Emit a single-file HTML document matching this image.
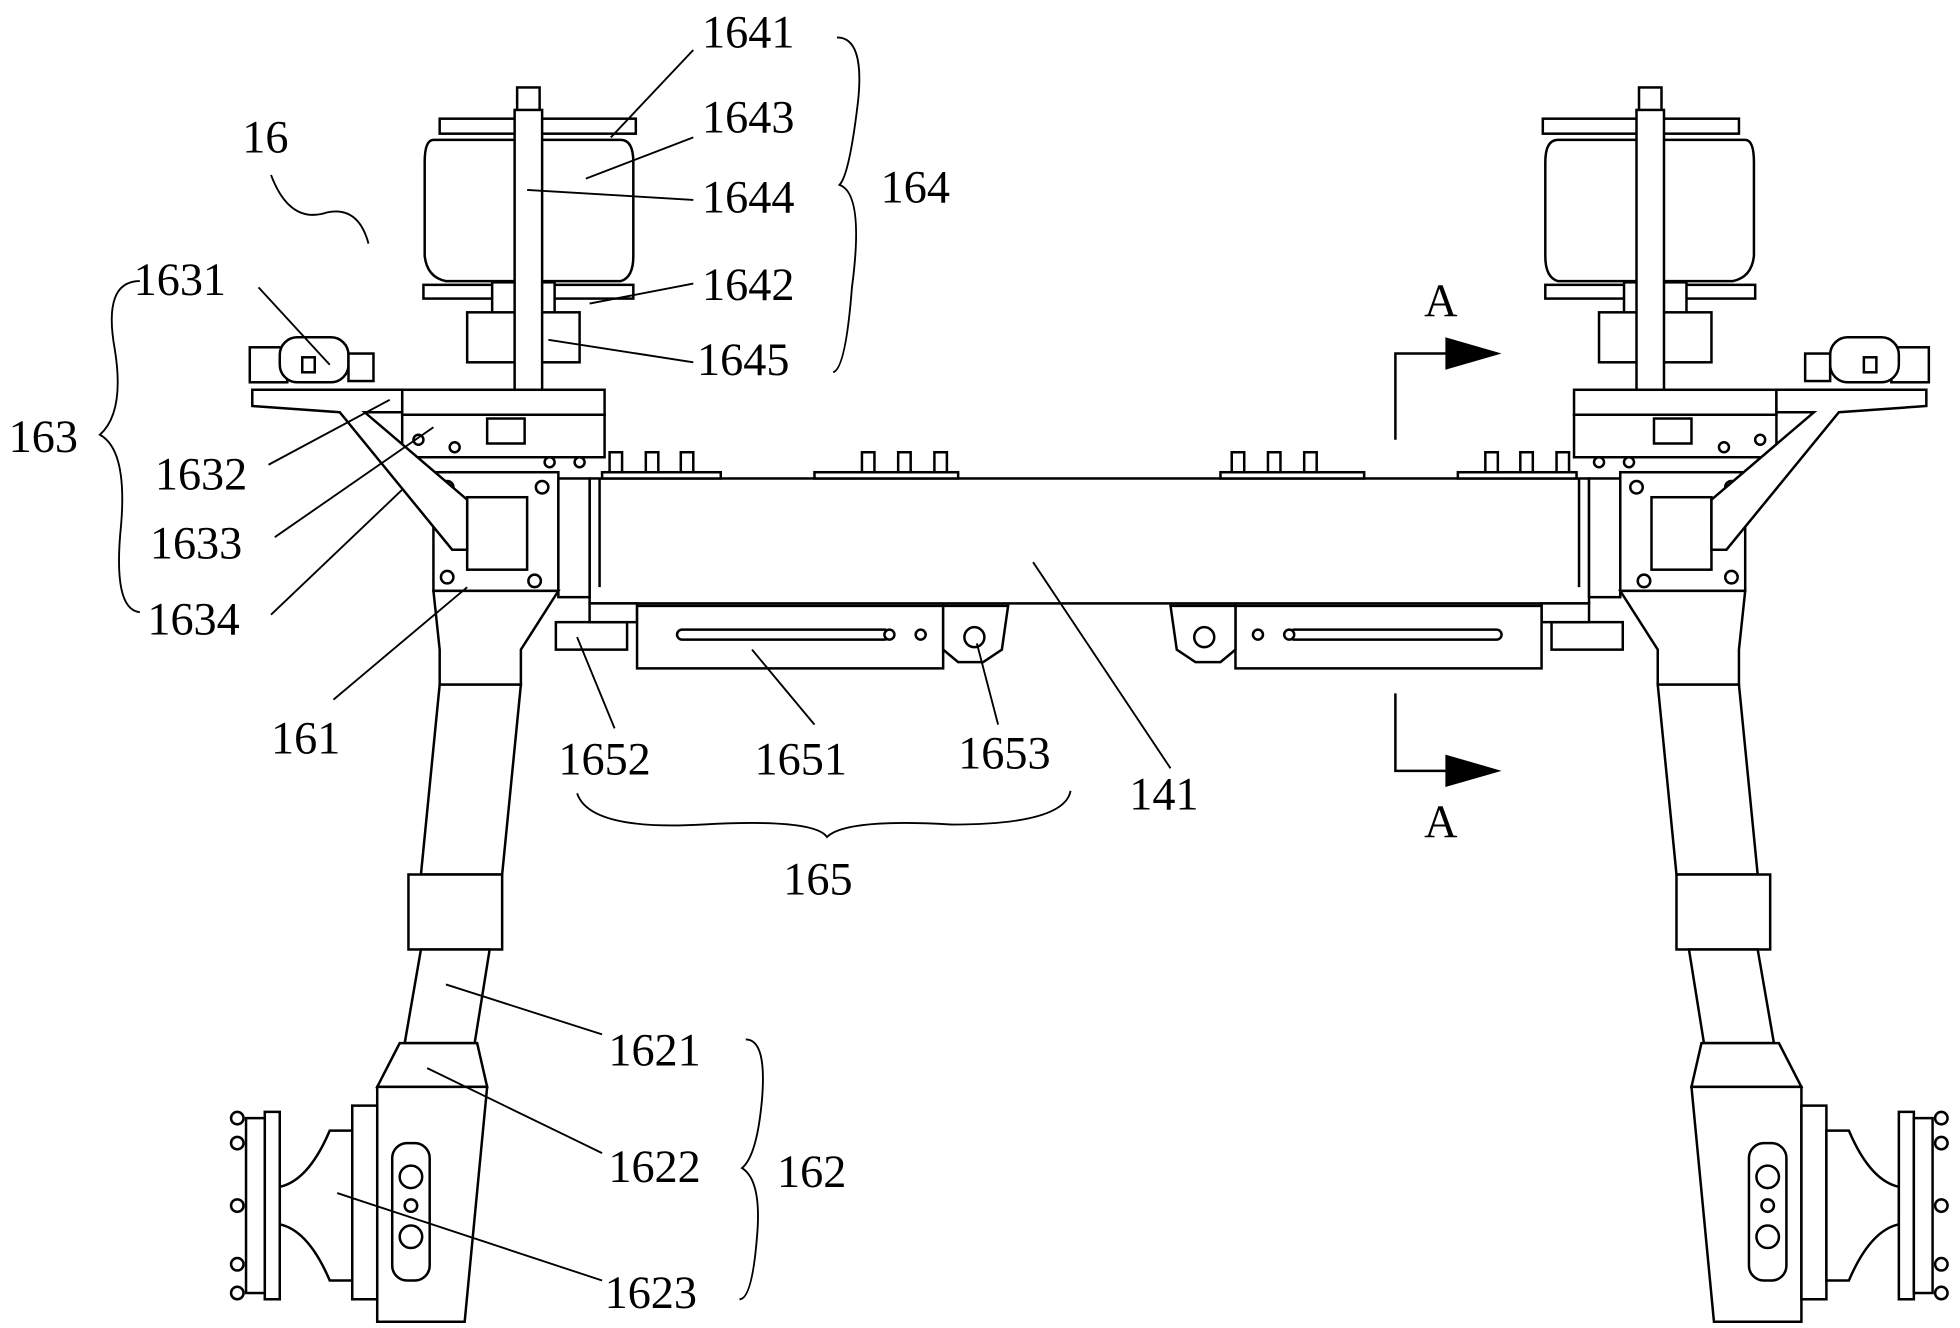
<!DOCTYPE html>
<html><head><meta charset="utf-8"><style>
html,body{margin:0;padding:0;background:#fff;}
svg{display:block}
text{font-family:"Liberation Serif",serif;font-size:37px;fill:#000}
</style></head><body>
<svg width="1960" height="1328" viewBox="0 0 1565 1063" xmlns="http://www.w3.org/2000/svg">
<defs>
<g id="side" fill="#fff" stroke="#000" stroke-width="2">
  <!-- air spring -->
  <rect x="412" y="70" width="18" height="20"/>
  <rect x="350" y="95" width="157" height="12"/>
  <path d="M345 112 Q338 112 338 130 L338 205 Q340 222 355 225 L495 225 Q505 222 505 205 L505 130 Q505 112 495 112 Z"/>
  <rect x="337" y="228" width="168" height="11"/>
  <rect x="392" y="226" width="50" height="28"/>
  <rect x="372" y="250" width="90" height="40"/>
  <rect x="410" y="88" width="22" height="250"/>
  <!-- plate 1633 -->
  <rect x="320" y="312" width="162" height="20"/>
  <rect x="320" y="332" width="162" height="34"/>
  <rect x="388" y="335" width="30" height="20"/>
  <circle cx="333" cy="352" r="4"/><circle cx="362" cy="358" r="4"/><circle cx="438" cy="370" r="4"/><circle cx="462" cy="370" r="4"/>
  <!-- bracket 1634 -->
  <rect x="345" y="378" width="100" height="95"/>
  <rect x="372" y="398" width="48" height="58"/>
  <circle cx="356" cy="390" r="5"/><circle cx="432" cy="390" r="5"/><circle cx="356" cy="462" r="5"/><circle cx="426" cy="465" r="5"/>
  <rect x="445" y="383" width="25" height="95"/>
  <!-- arm 1632 / 1631 -->
  <path d="M200 312 L320 312 L320 330 L290 330 L372 400 L372 440 L360 440 L270 330 L200 325 Z"/>
  <rect x="198" y="278" width="30" height="28"/>
  <rect x="222" y="270" width="55" height="36" rx="14"/>
  <rect x="277" y="283" width="20" height="22"/>
  <rect x="240" y="286" width="10" height="12"/>
  <!-- strut 161 -->
  <path d="M345 473 L445 473 L415 520 L415 548 L350 548 L350 520 Z"/>
  <path d="M350 548 L415 548 L400 700 L335 700 Z"/>
  <rect x="325" y="700" width="75" height="60"/>
  <path d="M335 760 L390 760 L378 835 L322 835 Z"/>
  <!-- foot 162 -->
  <path d="M318 835 L380 835 L388 870 L300 870 Z"/>
  <path d="M300 870 L388 870 L370 1058 L300 1058 Z"/>
  <rect x="312" y="915" width="30" height="110" rx="12"/>
  <circle cx="327" cy="942" r="9"/><circle cx="327" cy="965" r="5"/><circle cx="327" cy="990" r="9"/>
  <rect x="280" y="885" width="20" height="155"/>
  <path d="M280 905 L262 905 Q245 945 222 950 L222 980 Q245 985 262 1025 L280 1025 Z"/>
  <rect x="210" y="890" width="12" height="150"/>
  <rect x="195" y="895" width="15" height="140"/>
  <circle cx="188" cy="895" r="5"/><circle cx="188" cy="915" r="5"/><circle cx="188" cy="965" r="5"/><circle cx="188" cy="1012" r="5"/><circle cx="188" cy="1035" r="5"/>
  <!-- 1652 / 1651 / 1653 -->
  <rect x="443" y="498" width="57" height="22"/>
  <rect x="470" y="483" width="38" height="15"/>
  <rect x="508" y="485" width="245" height="50"/>
  <rect x="540" y="504" width="170" height="8" rx="4"/>
  <circle cx="710" cy="508" r="4"/><circle cx="735" cy="508" r="4"/>
  <path d="M753 485 L805 485 L800 520 L785 530 L765 530 L753 520 Z"/>
  <circle cx="778" cy="510" r="8"/>
  <!-- top bolts -->
  <g>
  <rect x="480" y="378" width="95" height="5"/>
  <rect x="486" y="362" width="10" height="16"/><rect x="515" y="362" width="10" height="16"/><rect x="543" y="362" width="10" height="16"/>
  <rect x="650" y="378" width="115" height="5"/>
  <rect x="688" y="362" width="10" height="16"/><rect x="717" y="362" width="10" height="16"/><rect x="746" y="362" width="10" height="16"/>
  </g>
</g>
</defs>
<rect x="470" y="383" width="800" height="100" fill="#fff" stroke="#000" stroke-width="2"/>
<line x1="478" y1="383" x2="478" y2="470" stroke="#000" stroke-width="2"/>
<line x1="1262" y1="383" x2="1262" y2="470" stroke="#000" stroke-width="2"/>
<use href="#side"/>
<use href="#side" transform="translate(1740,0) scale(-1,1)"/>
<!-- section A -->
<g stroke="#000" stroke-width="2" fill="none">
<path d="M1115 352 L1115 283 L1160 283"/>
<path d="M1115 555 L1115 617 L1160 617"/>
</g>
<path d="M1155 270 L1200 283 L1155 296 Z"/><path d="M1155 604 L1200 617 L1155 630 Z"/>
<text x="1138" y="253">A</text><text x="1138" y="670">A</text>
<!-- leaders -->
<g stroke="#000" stroke-width="1.5" fill="none">
<line x1="487" y1="110" x2="553" y2="40"/>
<line x1="467" y1="143" x2="553" y2="110"/>
<line x1="420" y1="152" x2="553" y2="160"/>
<line x1="470" y1="243" x2="553" y2="227"/>
<line x1="437" y1="272" x2="553" y2="290"/>
<line x1="205" y1="230" x2="262" y2="292"/>
<line x1="213" y1="372" x2="310" y2="320"/>
<line x1="218" y1="430" x2="345" y2="342"/>
<line x1="215" y1="492" x2="320" y2="392"/>
<line x1="265" y1="560" x2="372" y2="470"/>
<line x1="490" y1="583" x2="460" y2="510"/>
<line x1="650" y1="580" x2="600" y2="520"/>
<line x1="797" y1="580" x2="780" y2="515"/>
<line x1="935" y1="615" x2="825" y2="450"/>
<line x1="480" y1="828" x2="355" y2="788"/>
<line x1="480" y1="923" x2="340" y2="855"/>
<line x1="480" y1="1025" x2="268" y2="955"/>
<path d="M215 140 Q230 180 260 170 Q285 165 293 195"/>
<path d="M668 30 Q690 30 685 80 Q678 140 670 148 Q690 155 680 230 Q675 295 665 298"/>
<path d="M110 225 Q80 225 90 280 Q98 330 78 348 Q100 360 95 420 Q88 488 110 490"/>
<path d="M460 635 Q470 665 560 660 Q650 655 660 670 Q675 655 760 660 Q850 660 855 633"/>
<path d="M595 832 Q612 832 608 880 Q604 925 592 935 Q608 945 604 990 Q600 1040 590 1040"/>
</g>
<text x="560" y="38">1641</text>
<text x="560" y="106">1643</text>
<text x="560" y="170">1644</text>
<text x="560" y="240">1642</text>
<text x="556" y="300">1645</text>
<text x="703" y="162">164</text>
<text x="192" y="122">16</text>
<text x="105" y="236">1631</text>
<text x="5" y="362">163</text>
<text x="122" y="392">1632</text>
<text x="118" y="447">1633</text>
<text x="116" y="508">1634</text>
<text x="215" y="603">161</text>
<text x="445" y="620">1652</text>
<text x="602" y="620">1651</text>
<text x="765" y="615">1653</text>
<text x="902" y="648">141</text>
<text x="625" y="716">165</text>
<text x="485" y="853">1621</text>
<text x="485" y="946">1622</text>
<text x="620" y="950">162</text>
<text x="482" y="1047">1623</text>
</svg>
</body></html>
